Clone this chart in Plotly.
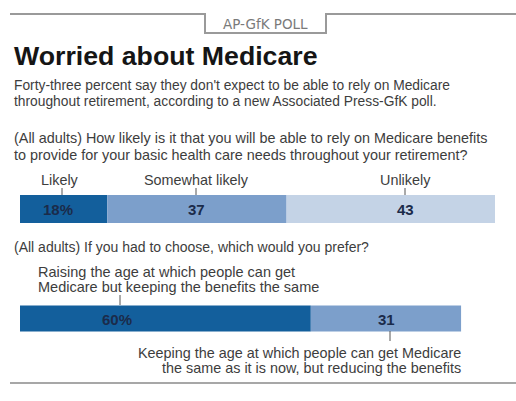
import plotly.graph_objects as go

W, H = 516, 401

# ---- data ----
q1_categories = ["Likely", "Somewhat likely", "Unlikely"]
q1_values = [18, 37, 43]
q1_value_labels = ["18%", "37", "43"]
q1_colors = ["#135f9c", "#7c9fcb", "#c4d3e6"]

q2_categories = ["Raising the age at which people can get|Medicare but keeping the benefits the same",
                 "Keeping the age at which people can get Medicare|the same as it is now, but reducing the benefits"]
q2_values = [60, 31]
q2_value_labels = ["60%", "31"]
q2_colors = ["#135f9c", "#7c9fcb"]

title = "Worried about Medicare"
subtitle = ["Forty-three percent say they don't expect to be able to rely on Medicare",
            "throughout retirement, according to a new Associated Press-GfK poll."]
question1 = ["(All adults) How likely is it that you will be able to rely on Medicare benefits",
             "to provide for your basic health care needs throughout your retirement?"]
question2 = "(All adults) If you had to choose, which would you prefer?"
kicker = "AP-GfK POLL"
credit = "AP"

# ---- scale: px per percentage point ----
PX = 4.847
X0 = 20  # left pixel of bars
r0 = -X0 / PX
r1 = (W - X0) / PX


def px(p):
    return r0 + p / W * (r1 - r0)


fig = go.Figure()

BAR1_Y, BAR1_W = 209, 28
BAR2_Y, BAR2_W = 318.5, 26

base = 0
for cat, v, c in zip(q1_categories, q1_values, q1_colors):
    fig.add_trace(go.Bar(x=[v], y=[BAR1_Y], base=[base], orientation="h", width=BAR1_W,
                         marker=dict(color=c, line_width=0), name=cat,
                         showlegend=False, hoverinfo="skip"))
    base += v
base = 0
for cat, v, c in zip(q2_categories, q2_values, q2_colors):
    fig.add_trace(go.Bar(x=[v], y=[BAR2_Y], base=[base], orientation="h", width=BAR2_W,
                         marker=dict(color=c, line_width=0), name=cat.replace("|", " "),
                         showlegend=False, hoverinfo="skip"))
    base += v

FONT = "Liberation Sans, Arial, sans-serif"
ann = []


def text(x, y, s, size, color="#333", bold=False, xanchor="left", family=FONT):
    if bold:
        s = "<b>" + s + "</b>"
    ann.append(dict(x=x, y=y, xref="x", yref="y", text=s, showarrow=False,
                    xanchor=xanchor, yanchor="middle",
                    font=dict(family=family, size=size, color=color)))


BODY = "#3d3d3d"
# header
text(px(265), 23.5, kicker, 13.5, "#7a7a7a", xanchor="center", family="DejaVu Sans")
text(px(12), 56, title, 26.7, "#151515", bold=True)
for line, y in zip(subtitle, [85, 101.5]):
    text(px(12), y, line, 13.8, BODY)
for line, y in zip(question1, [138, 154.5]):
    text(px(12), y, line, 14.4, BODY)

# q1 category labels (positions in pixels)
q1_label_px = [60, 196, 405]
for cat, p in zip(q1_categories, q1_label_px):
    text(px(p), 180, cat, 14.4, BODY, xanchor="center")

# q1 value labels
q1_value_px = [58, 196, 405]
for lab, p in zip(q1_value_labels, q1_value_px):
    text(px(p), BAR1_Y + 0.5, lab, 15, "#1b2b4a", bold=True, xanchor="center")

text(px(12), 247, question2, 14, BODY)
for line, y in zip(q2_categories[0].split("|"), [271.5, 287]):
    text(px(36), y, line, 14.5, BODY)
for line, y in zip(q2_categories[1].split("|"), [353, 367.5]):
    text(px(463), y, line, 14.4, BODY, xanchor="right")

q2_value_px = [117, 386]
for lab, p in zip(q2_value_labels, q2_value_px):
    text(px(p), BAR2_Y + 0.5, lab, 15, "#1b2b4a", bold=True, xanchor="center")

text(px(518), 395, credit, 10, "#444", xanchor="right")

shapes = []
LINE = "#9a9a9a"
# top rule with tab
shapes.append(dict(type="path", xref="x", yref="y",
                   path=f"M {px(10)} 14 L {px(205)} 14 L {px(205)} 33 L {px(326)} 33 L {px(326)} 14 L {px(516)} 14",
                   line=dict(color=LINE, width=2)))
# bottom rule
shapes.append(dict(type="line", xref="x", yref="y", x0=px(10), x1=px(516), y0=383, y1=383,
                   line=dict(color="#8a8a8a", width=1.5)))
# leader ticks
for p, y0, y1 in [(62, 188, 195), (196, 188, 195), (405, 188, 195), (120, 295, 305), (390, 331, 341)]:
    shapes.append(dict(type="line", xref="x", yref="y", x0=px(p), x1=px(p), y0=y0, y1=y1,
                       line=dict(color="#555", width=1)))

fig.update_layout(
    width=W, height=H, margin=dict(l=0, r=0, t=0, b=0),
    paper_bgcolor="white", plot_bgcolor="white", barmode="overlay",
    xaxis=dict(range=[r0, r1], visible=False, fixedrange=True),
    yaxis=dict(range=[H, 0], visible=False, fixedrange=True),
    annotations=ann, shapes=shapes,
)

fig.write_html("out.html")
